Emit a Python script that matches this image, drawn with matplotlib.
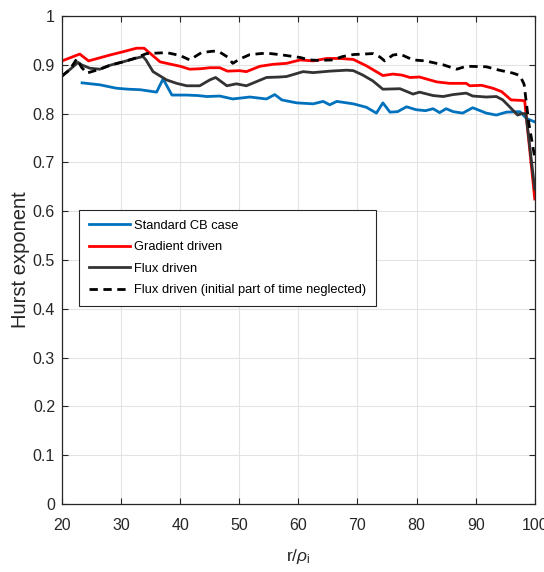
import matplotlib
matplotlib.use('Agg')
import matplotlib.pyplot as plt

plt.rcParams['font.family'] = ['Liberation Sans', 'DejaVu Sans']
plt.rcParams['mathtext.fontset'] = 'custom'
plt.rcParams['mathtext.rm'] = 'Liberation Sans'
plt.rcParams['mathtext.it'] = 'Liberation Sans:italic'

# 数据
x_cb = [23.4, 26.4, 29.2, 31.2, 33.2, 36, 37.1, 38.6, 41.1, 43, 44.5, 46.7, 48.9, 51.8, 54.6,
        56, 57.2, 59.7, 62.5, 64.2, 65.3, 66.5, 69.3, 71.5, 73.2, 74.3, 75.5, 76.8, 78.3, 79.9,
        81.5, 82.8, 83.9, 85, 86.2, 87.8, 89.5, 91.8, 93.5, 95.2, 97.5, 98.6, 100]
h_cb = [0.863, 0.859, 0.852, 0.850, 0.849, 0.844, 0.871, 0.838, 0.838, 0.837, 0.835, 0.836, 0.830,
        0.834, 0.830, 0.839, 0.828, 0.822, 0.820, 0.825, 0.818, 0.825, 0.820, 0.813, 0.801, 0.822,
        0.803, 0.804, 0.814, 0.808, 0.806, 0.810, 0.802, 0.810, 0.804, 0.801, 0.812, 0.801, 0.797,
        0.803, 0.804, 0.790, 0.783]

x_grad = [20, 23, 24.5, 28.1, 30.4, 32.6, 33.9, 36.6, 40, 41.6, 43.5, 45, 46.7, 48, 50, 51.2,
          53.5, 55.7, 58, 60.3, 62.5, 64.8, 67, 69.3, 71.5, 74.3, 76, 77.5, 78.9, 80.5, 83.4,
          85.6, 88.4, 89, 91, 92.9, 94.4, 96, 97.8, 98.3, 100]
h_grad = [0.908, 0.922, 0.908, 0.920, 0.927, 0.934, 0.934, 0.906, 0.897, 0.891, 0.892, 0.894,
          0.894, 0.887, 0.888, 0.886, 0.897, 0.901, 0.903, 0.910, 0.908, 0.913, 0.913, 0.911,
          0.898, 0.878, 0.881, 0.879, 0.874, 0.875, 0.865, 0.862, 0.862, 0.857, 0.858, 0.852,
          0.845, 0.828, 0.827, 0.826, 0.625]

x_flux = [20, 21.3, 22.7, 23.3, 24.7, 26.4, 28.1, 30.3, 32, 33.7, 34.2, 35.4, 37.7, 39.4, 41.1,
          43.3, 45, 46, 47.9, 49.5, 51.2, 54.6, 56.8, 58, 60.8, 62.5, 65.3, 68.2, 69.3, 70.9,
          72.6, 74.3, 77.2, 79.4, 80.5, 82.8, 84.5, 86.2, 88.4, 89.5, 91.8, 93.5, 94.6, 96.3,
          97.1, 97.8, 98.5, 100]
h_flux = [0.877, 0.890, 0.905, 0.900, 0.893, 0.891, 0.899, 0.906, 0.912, 0.917, 0.910, 0.886,
          0.869, 0.862, 0.857, 0.857, 0.869, 0.874, 0.857, 0.861, 0.857, 0.874, 0.875, 0.876,
          0.886, 0.884, 0.887, 0.889, 0.888, 0.879, 0.867, 0.850, 0.851, 0.840, 0.844, 0.837,
          0.835, 0.839, 0.842, 0.836, 0.834, 0.835, 0.828, 0.807, 0.797, 0.800, 0.800, 0.645]

x_flux2 = [20, 21.3, 22.5, 23.3, 24.2, 26.4, 28.1, 30.3, 32, 34.3, 37.7, 40, 41.6, 43.6, 45.6,
           46.7, 48, 48.9, 50.1, 51.8, 54.6, 57.4, 60.3, 61.9, 63.5, 65.8, 67.5, 69.3, 72.6,
           73.8, 74.6, 76, 77.2, 79.4, 81.5, 84.5, 86.8, 88.4, 91.8, 94, 96.3, 97.5, 98.2, 99, 100]
h_flux2 = [0.877, 0.890, 0.912, 0.895, 0.883, 0.891, 0.899, 0.906, 0.912, 0.923, 0.925, 0.919,
           0.910, 0.925, 0.928, 0.926, 0.916, 0.903, 0.912, 0.921, 0.924, 0.920, 0.915, 0.910,
           0.909, 0.910, 0.917, 0.921, 0.923, 0.916, 0.908, 0.920, 0.922, 0.910, 0.908, 0.900,
           0.891, 0.897, 0.896, 0.889, 0.883, 0.878, 0.86, 0.78, 0.71]

labels = ['Standard CB case', 'Gradient driven', 'Flux driven',
          'Flux driven (initial part of time neglected)']

fig = plt.figure(figsize=(5.44, 5.72), dpi=100)
ax = fig.add_axes([0.114, 0.119, 0.869, 0.853])

ax.plot(x_cb, h_cb, color='#0072BD', lw=2.0, label=labels[0])
ax.plot(x_grad, h_grad, color='#FF0000', lw=2.0, label=labels[1])
ax.plot(x_flux, h_flux, color='#333333', lw=2.0, label=labels[2])
ax.plot(x_flux2, h_flux2, color='black', lw=2.0, ls=(0, (3, 2)), label=labels[3])

ax.set_xlim(20, 100)
ax.set_ylim(0, 1)
ax.set_xticks(range(20, 101, 10))
ax.set_yticks([i / 10 for i in range(11)])
ax.set_yticklabels(['0', '0.1', '0.2', '0.3', '0.4', '0.5', '0.6', '0.7', '0.8', '0.9', '1'])
ax.grid(True, color='#e3e3e3', lw=0.8)
ax.set_axisbelow(True)
ax.tick_params(direction='in', length=4, top=True, right=True, labelsize=11.5,
               colors='#262626', width=0.8)
ax.tick_params(axis='x', pad=10)
ax.tick_params(axis='y', pad=5)
for s in ax.spines.values():
    s.set_color('#262626')
    s.set_linewidth(0.9)

ax.set_xlabel(r'r/$\rho_{\rm i}$', fontsize=12.5, color='#262626', labelpad=10)
ax.set_ylabel('Hurst exponent', fontsize=14.5, color='#262626', labelpad=2)

leg = ax.legend(loc='upper left', bbox_to_anchor=(0.036, 0.602), fontsize=9.3,
                handlelength=3.2, handletextpad=0.3, borderaxespad=0, labelspacing=0.73,
                fancybox=False, framealpha=1, edgecolor='#262626', borderpad=0.75)
leg.get_frame().set_linewidth(0.8)

fig.savefig('out.png', dpi=100)
